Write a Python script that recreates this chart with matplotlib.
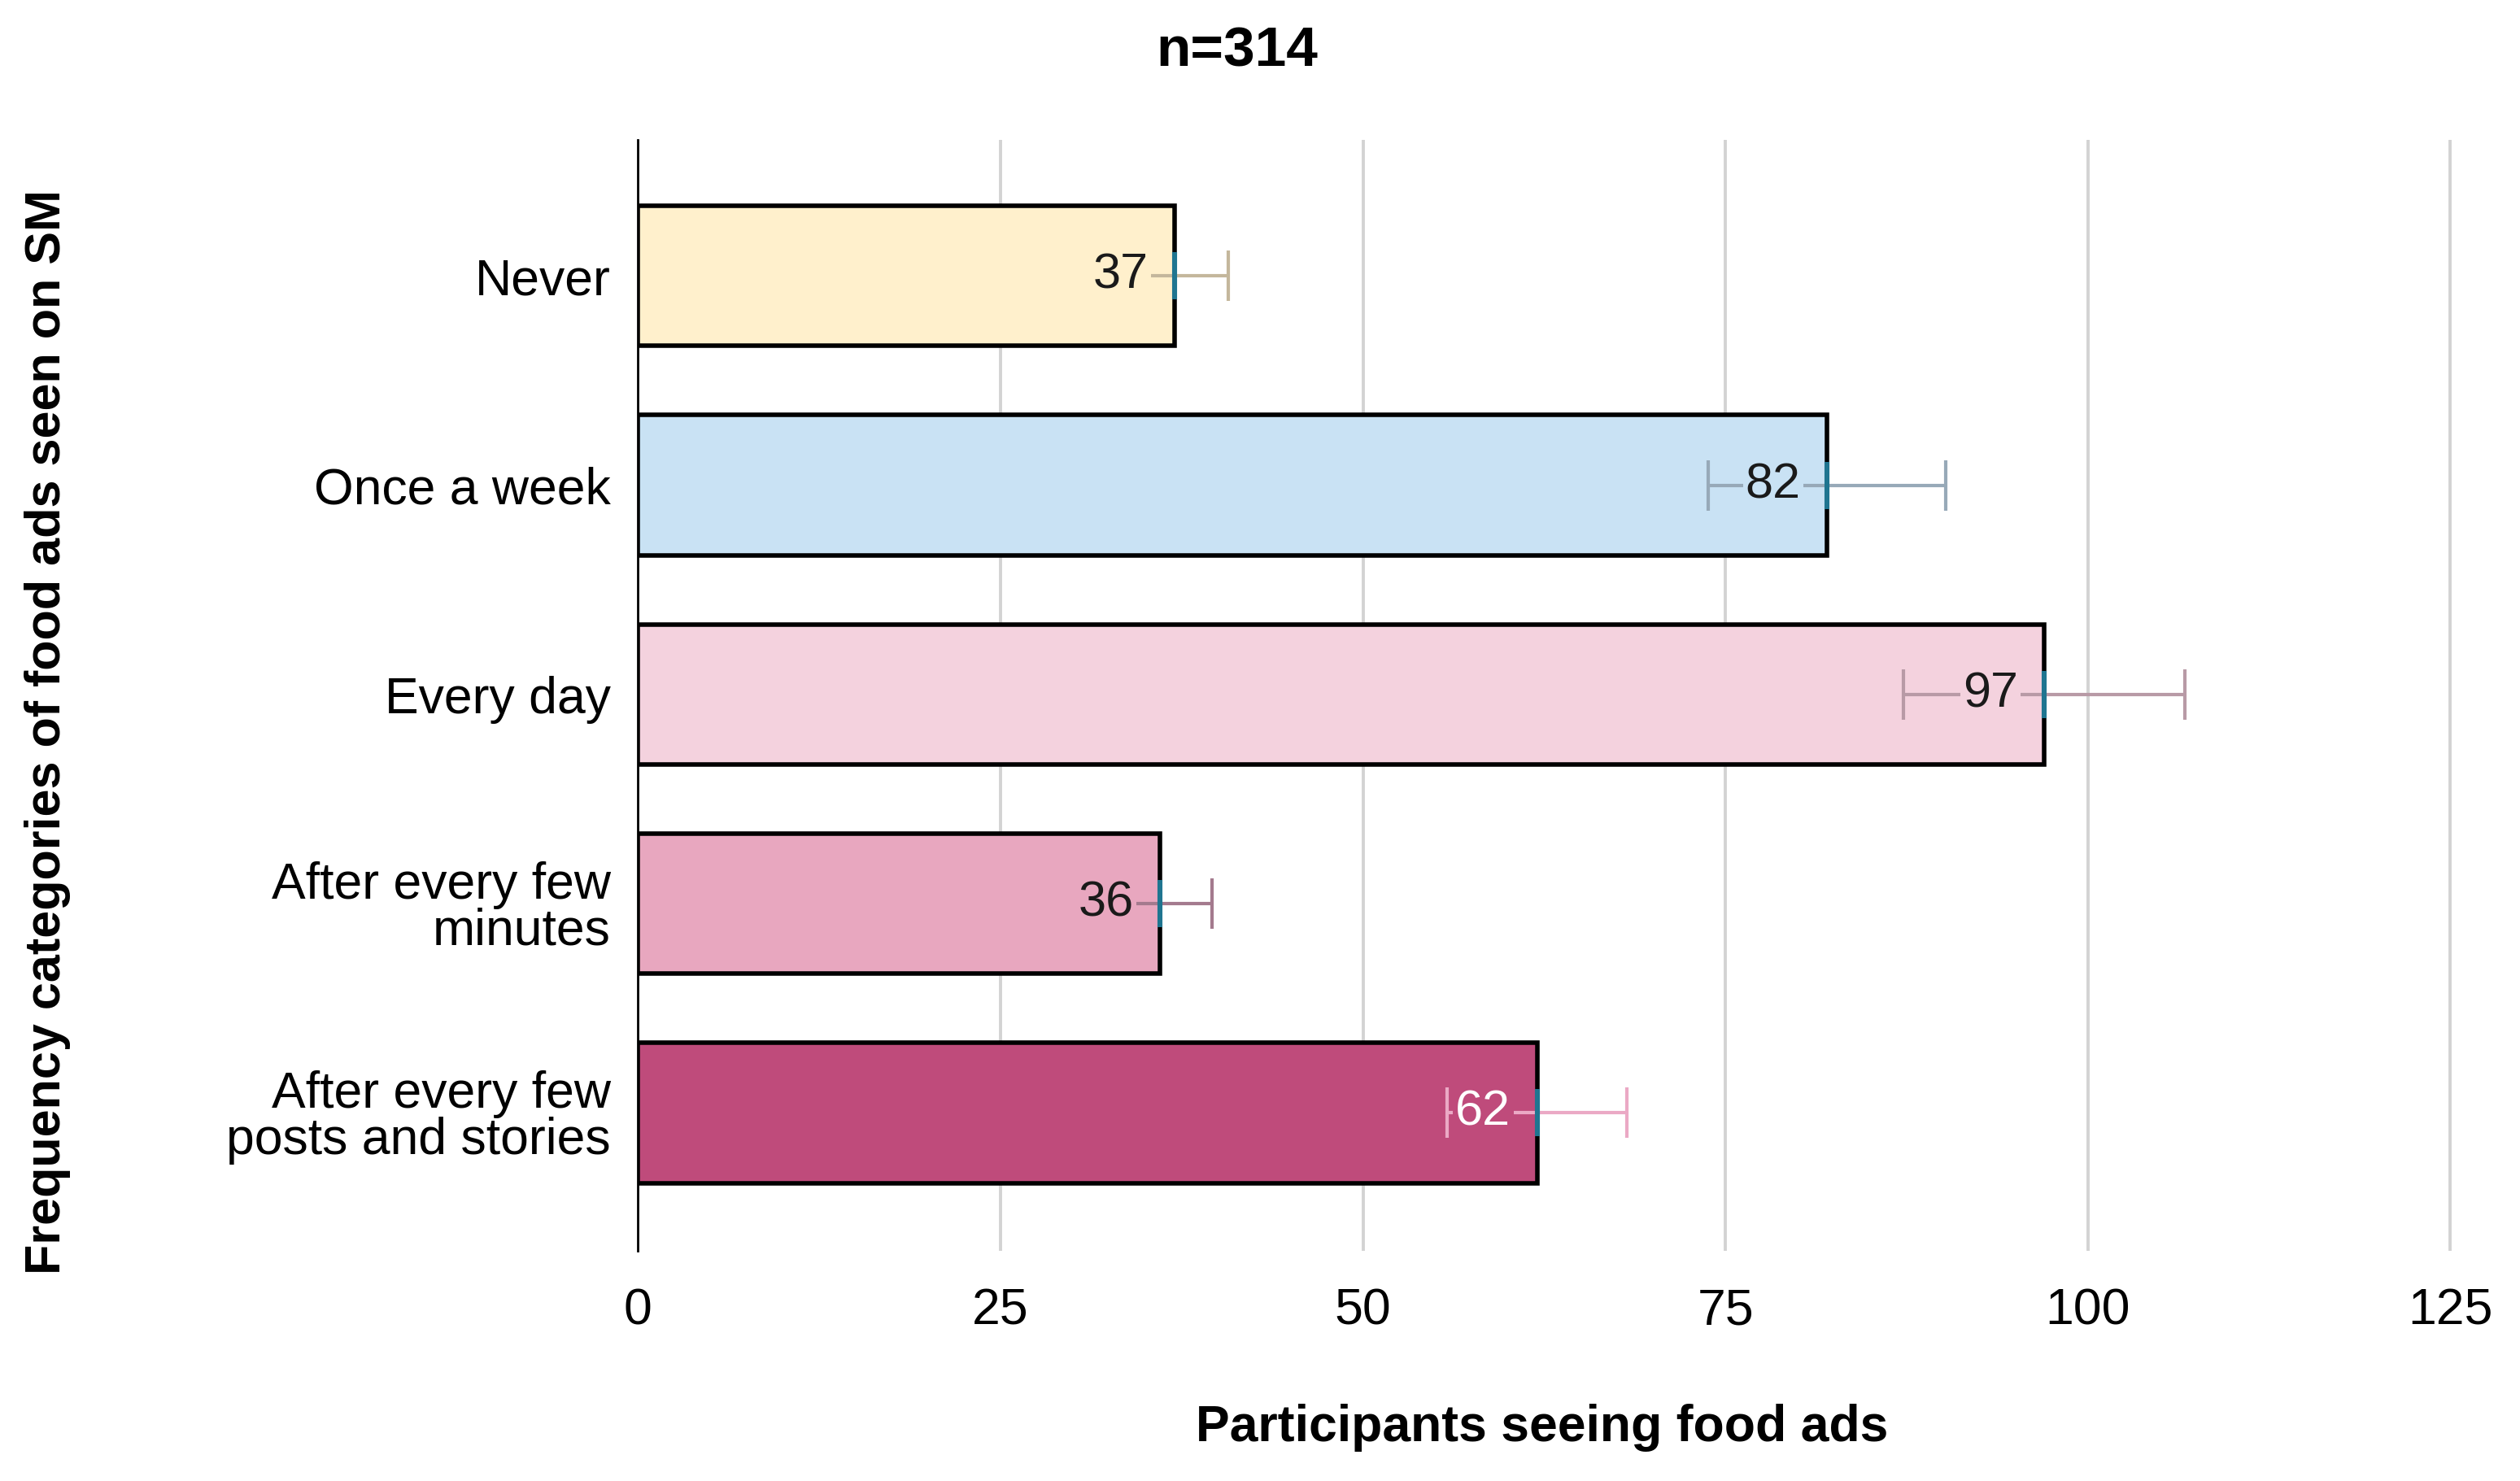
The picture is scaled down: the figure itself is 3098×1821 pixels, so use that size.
import matplotlib.pyplot as plt

# data
categories = ['Never', 'Once a week', 'Every day',
              'After every few\nminutes', 'After every few\nposts and stories']
counts = [37, 82, 97, 36, 62]
errors = [3.7, 8.2, 9.7, 3.6, 6.2]
x_ticks = [0, 25, 50, 75, 100, 125]

bar_colors = ['#fff0cc', '#c9e2f4', '#f4d2de', '#e8a7bf', '#bf4b7b']
err_colors = ['#c4b79c', '#97a9b8', '#b89aa6', '#a47a8e', '#eba9c5']
label_colors = ['#1a1a1a', '#1a1a1a', '#1a1a1a', '#1a1a1a', '#ffffff']

plt.rcParams['font.family'] = ['Liberation Sans', 'DejaVu Sans']

fig = plt.figure(figsize=(15.49, 9.105), dpi=200)
ax = fig.add_axes([0.2532, 0.1553, 0.7238, 0.7502])

y_pos = list(range(len(categories)))
ax.barh(y_pos, counts, height=0.67, color=bar_colors,
        edgecolor='black', linewidth=2.0, zorder=2)

for i in y_pos:
    ax.errorbar(counts[i], i, xerr=errors[i], fmt='none', ecolor=err_colors[i],
                elinewidth=1.5, capsize=11, capthick=1.5, zorder=3)
    ax.text(counts[i] - 1.8, i, str(counts[i]), ha='right', va='center',
            fontsize=22, color=label_colors[i], zorder=4,
            bbox=dict(boxstyle='square,pad=0.05', facecolor=bar_colors[i],
                      edgecolor='none'))
    ax.plot(counts[i], i, marker='|', markersize=21, markeredgewidth=2.2,
            color='#1f7590', zorder=5)

ax.set_xlim(0, 125.8)
ax.set_ylim(4.66, -0.65)
ax.set_xticks(x_ticks)
ax.set_yticks(y_pos)
ax.set_yticklabels(categories, fontsize=22.5, linespacing=0.95)
ax.tick_params(axis='x', labelsize=22.5, length=0, pad=16)
ax.tick_params(axis='y', length=0, pad=12)

ax.grid(axis='x', color='#d3d3d3', linewidth=1.4, zorder=0)
ax.set_axisbelow(True)
for side in ['top', 'right', 'bottom']:
    ax.spines[side].set_visible(False)
ax.spines['left'].set_linewidth(1.0)
ax.spines['left'].set_color('black')
ax.spines['left'].set_zorder(6)

fig.text(0.491, 0.965, 'n=314', ha='center', va='center',
         fontsize=25, fontweight='bold')
fig.text(0.612, 0.036, 'Participants seeing food ads', ha='center',
         va='center', fontsize=22.5, fontweight='bold')
fig.text(0.019, 0.506, 'Frequency categories of food ads seen on SM',
         ha='center', va='center', rotation=90, fontsize=22,
         fontweight='bold')

fig.savefig('out.png', dpi=200, facecolor='white')
